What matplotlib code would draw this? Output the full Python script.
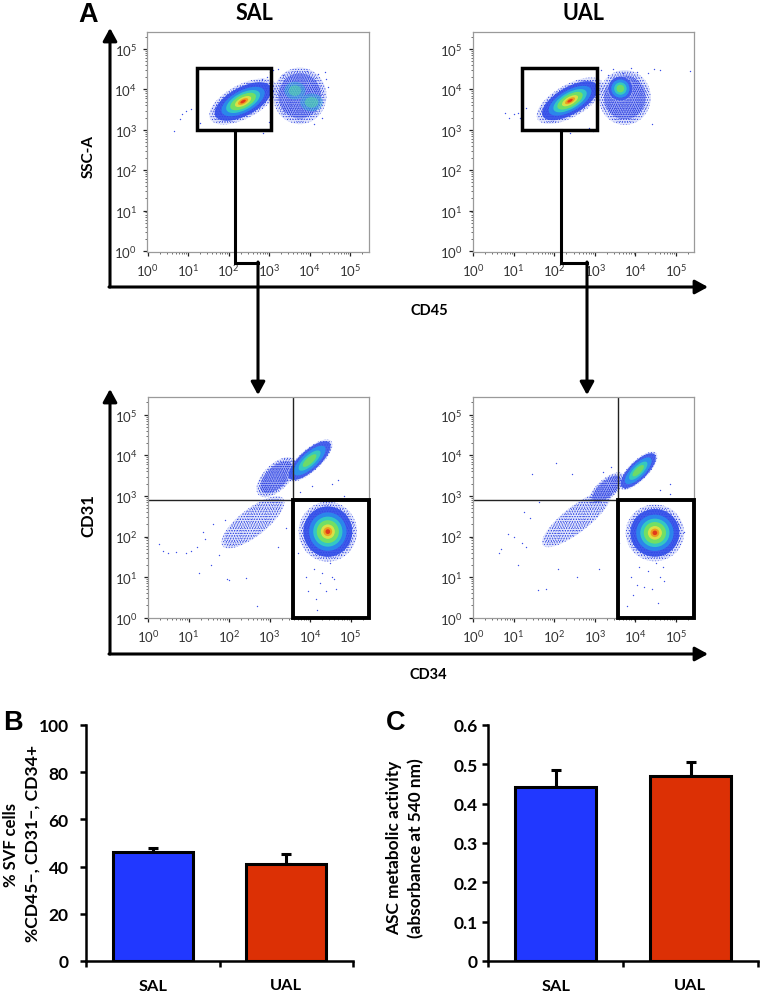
import matplotlib
matplotlib.use("Agg")
import matplotlib.pyplot as plt
from matplotlib.patches import Ellipse, Rectangle
import numpy as np

plt.rcParams['font.family'] = ['Lato', 'DejaVu Sans']
plt.rcParams['mathtext.fontset'] = 'custom'
plt.rcParams['mathtext.rm'] = 'Lato'
plt.rcParams['mathtext.default'] = 'regular'
plt.rcParams['hatch.linewidth'] = 0.4

W, H = 762, 995

# bar data (panels B and C)
groups = ['SAL', 'UAL']
svf_values = [46, 41]
svf_err = [1.8, 4.3]
asc_values = [0.442, 0.470]
asc_err = [0.043, 0.036]
svf_ticks = [0, 20, 40, 60, 80, 100]
asc_ticks = [0, 0.1, 0.2, 0.3, 0.4, 0.5, 0.6]
asc_tick_labels = ['0', '0.1', '0.2', '0.3', '0.4', '0.5', '0.6']

# flow panels: populations in log10 units (x, y, long half axis, short half axis, angle, kind)
sal_cd45 = [
    (3.76, 3.84, 0.66, 0.70, 0, 'dense'),
    (3.64, 3.97, 0.26, 0.22, 0, 'faint'),
    (4.05, 3.68, 0.28, 0.22, 0, 'faint'),
    (2.36, 3.70, 0.92, 0.42, 28, 'full'),
]
ual_cd45 = [
    (3.74, 3.80, 0.64, 0.68, 0, 'dense'),
    (3.63, 4.02, 0.32, 0.32, 0, 'core'),
    (2.39, 3.72, 0.92, 0.40, 30, 'full'),
]
sal_cd34 = [
    (2.59, 2.35, 0.95, 0.34, 38, 'sparse'),
    (3.17, 3.46, 0.62, 0.32, 45, 'dense'),
    (3.99, 3.87, 0.72, 0.27, 42, 'core'),
    (4.44, 2.12, 0.72, 0.74, 0, 'full'),
]
ual_cd34 = [
    (2.55, 2.43, 1.05, 0.32, 38, 'sparse'),
    (3.29, 3.17, 0.55, 0.24, 42, 'dense'),
    (4.07, 3.62, 0.62, 0.24, 45, 'core'),
    (4.48, 2.09, 0.72, 0.70, 0, 'full'),
]

# stray events (log10 x, log10 y)
sal_cd45_x = [0.65, 0.80, 0.84, 0.95, 1.08, 1.22, 1.30, 2.85, 2.95, 3.02, 3.10, 3.22, 3.34, 3.70, 3.95, 4.22, 4.38, 4.40, 4.45, 4.30, 4.10, 2.82, 3.05, 3.00]
sal_cd45_y = [2.97, 3.26, 3.39, 3.47, 3.52, 3.30, 3.18, 2.93, 4.30, 4.42, 4.48, 4.50, 4.35, 4.45, 4.46, 4.38, 4.42, 4.25, 4.05, 3.30, 3.15, 4.25, 3.05, 3.20]
ual_cd45_x = [0.78, 0.88, 1.00, 1.10, 1.15, 1.30, 2.40, 3.05, 3.15, 3.32, 3.45, 3.70, 3.90, 4.05, 4.30, 4.45, 4.60, 5.35, 2.95, 2.60, 2.85, 4.40]
ual_cd45_y = [3.42, 3.28, 3.40, 3.42, 3.30, 3.55, 2.92, 4.42, 4.48, 4.35, 4.50, 4.40, 4.52, 4.42, 4.40, 4.50, 4.48, 4.45, 2.98, 3.00, 3.05, 3.15]
sal_cd34_x = [0.28, 0.38, 0.50, 0.70, 0.95, 1.05, 1.20, 1.25, 1.40, 1.55, 1.75, 1.90, 1.95, 2.42, 1.35, 1.60, 2.00, 2.68, 3.20, 3.40, 3.95, 4.15, 4.25, 4.40, 4.55, 4.65, 3.90, 4.10, 4.30, 4.50, 4.60, 4.18, 4.70, 4.85, 5.05, 4.95, 4.55, 4.05, 3.75, 3.70]
sal_cd34_y = [1.82, 1.65, 1.60, 1.62, 1.60, 1.65, 1.75, 1.10, 1.95, 1.30, 1.55, 2.40, 0.95, 0.98, 2.10, 2.30, 0.92, 0.30, 1.75, 2.20, 0.65, 0.45, 0.85, 0.65, 1.00, 0.70, 1.00, 1.20, 1.10, 1.35, 0.95, 0.20, 3.40, 3.00, 2.35, 1.85, 3.30, 3.25, 3.10, 1.60]
ual_cd34_x = [0.65, 0.68, 0.85, 1.00, 1.10, 1.20, 1.30, 1.25, 1.40, 1.60, 1.80, 1.62, 2.10, 2.05, 2.45, 2.55, 1.45, 3.10, 3.80, 3.95, 4.05, 4.20, 4.40, 4.55, 4.60, 4.70, 3.90, 4.10, 4.30, 4.50, 4.68, 4.85, 5.05, 5.20, 4.60, 3.75, 3.60, 3.40, 3.20, 4.85]
ual_cd34_y = [1.60, 1.70, 2.05, 2.00, 1.30, 1.85, 1.75, 2.60, 2.45, 0.68, 0.70, 2.85, 1.20, 3.80, 3.55, 1.00, 3.55, 1.20, 0.30, 0.55, 0.80, 0.75, 0.70, 0.35, 1.00, 0.90, 1.00, 1.25, 1.15, 1.35, 1.25, 3.30, 2.30, 2.10, 3.15, 3.20, 1.85, 3.70, 3.60, 3.05]

# gates in log10 units
top_gate = [1.21, 2.99, 3.05, 4.52]   # x0, y0, x1, y1
low_gate_x = 3.58
low_gate_y = 2.90

decades = [0, 1, 2, 3, 4, 5]

# nested density levels for the bright populations
full_scale = [0.84, 0.64, 0.50, 0.38, 0.24, 0.15, 0.08]
full_color = ['#2f4be8', '#2a8cec', '#35cfc0', '#7ae25a', '#e4e244', '#f0961e', '#e0301a']
core_scale = [0.92, 0.70, 0.48, 0.30]
core_color = ['#3a55ea', '#2a96ec', '#38d0b8', '#74dc60']

fig = plt.figure(figsize=(W / 100, H / 100), dpi=100)


def px_axes(left, top, right, bottom):
    return fig.add_axes([left / W, 1 - bottom / H, (right - left) / W, (bottom - top) / H])


def blob(ax, cx, cy, a, b, ang, **kw):
    ax.add_patch(Ellipse((cx, cy), 2 * a, 2 * b, angle=ang, lw=0, **kw))


def flow_panel(left, top, right, bottom, x0, y0, x_per, y_per, pops, sx, sy):
    ax = px_axes(left, top, right, bottom)
    ax.set_xlim((left - x0) / x_per, (right - x0) / x_per)
    ax.set_ylim((y0 - bottom) / y_per, (y0 - top) / y_per)
    for cx, cy, a, b, ang, kind in pops:
        if kind == 'faint':
            blob(ax, cx, cy, a, b, ang, facecolor='#2fb0d8', alpha=0.45)
            blob(ax, cx, cy, 0.6 * a, 0.6 * b, ang, facecolor='#55d8a8', alpha=0.55)
            continue
        # speckled fringe, two hatch densities so the dots look less regular
        blob(ax, cx, cy, a, b, ang, facecolor='#c4ccfa', alpha=0.5)
        blob(ax, cx, cy, a, b, ang, facecolor='none', edgecolor='#2a3fe0', hatch='......')
        blob(ax, cx, cy, 0.92 * a, 0.92 * b, ang, facecolor='none', edgecolor='#3048e4', hatch='.......')
        if kind == 'sparse':
            continue
        if kind == 'dense':
            blob(ax, cx, cy, 0.8 * a, 0.8 * b, ang, facecolor='#5a6df0', alpha=0.5)
            blob(ax, cx, cy, 0.8 * a, 0.8 * b, ang, facecolor='none', edgecolor='#1c30d8', hatch='........')
            continue
        scales, colors = (core_scale, core_color) if kind == 'core' else (full_scale, full_color)
        for s, c in zip(scales, colors):
            blob(ax, cx, cy, a * s, b * s, ang, facecolor=c, alpha=0.9)
    ax.scatter(sx, sy, s=1.0, color='#3a4fe8', lw=0)
    ax.set_xticks(decades)
    ax.set_yticks(decades)
    ax.set_xticklabels(['$10^{%d}$' % d for d in decades])
    ax.set_yticklabels(['$10^{%d}$' % d for d in decades])
    minor = [d + np.log10(m) for d in decades for m in range(2, 10)]
    ax.set_xticks([m for m in minor if m < ax.get_xlim()[1]], minor=True)
    ax.set_yticks([m for m in minor if m < ax.get_ylim()[1]], minor=True)
    ax.tick_params(which='major', length=3.2, width=0.9, labelsize=9.5, color='#222222', labelcolor='#333333', pad=4)
    ax.tick_params(which='minor', length=1.7, width=0.5, color='#333333')
    for s in ax.spines.values():
        s.set_color('#9a9a9a')
        s.set_linewidth(0.9)
    return ax


ax1 = flow_panel(147, 33, 369, 253, 147.5, 252, 40.5, 40.4, sal_cd45, sal_cd45_x, sal_cd45_y)
ax2 = flow_panel(472.7, 33, 694, 253, 473, 252, 40.6, 40.4, ual_cd45, ual_cd45_x, ual_cd45_y)
ax3 = flow_panel(147.7, 398, 369, 619, 148, 618.7, 40.5, 40.6, sal_cd34, sal_cd34_x, sal_cd34_y)
ax4 = flow_panel(472.7, 398, 694, 619, 473, 618.7, 40.6, 40.6, ual_cd34, ual_cd34_x, ual_cd34_y)

for ax in (ax1, ax2):
    ax.add_patch(Rectangle((top_gate[0], top_gate[1]), top_gate[2] - top_gate[0], top_gate[3] - top_gate[1],
                           fill=False, edgecolor='black', lw=2.5, joinstyle='miter', zorder=5))

for ax in (ax3, ax4):
    ax.axhline(low_gate_y, color='#222222', lw=1.0)
    ax.axvline(low_gate_x, color='#222222', lw=1.0)
    xmax = ax.get_xlim()[1]
    ax.add_patch(Rectangle((low_gate_x, ax.get_ylim()[0]), xmax - low_gate_x, low_gate_y - ax.get_ylim()[0],
                           fill=False, edgecolor='black', lw=2.8, joinstyle='miter', zorder=5, clip_on=False))


def bar_panel(left, right, values, errs, ticks, labels, ymax, pad):
    ax = px_axes(left, 726, right, 962)
    ax.bar([0, 1], values, width=0.6, color=['#2138ff', '#dc3005'], edgecolor='black', linewidth=2.2, zorder=2)
    ax.errorbar([0, 1], values, yerr=[[0, 0], errs], fmt='none', ecolor='black', elinewidth=2.2, capsize=3.5, capthick=2.2, zorder=1)
    ax.set_xlim(-0.5, 1.5)
    ax.set_ylim(0, ymax)
    ax.set_xticks([-0.5, 0.5, 1.5])
    ax.set_xticklabels([])
    ax.set_yticks(ticks)
    ax.set_yticklabels(labels, fontweight='bold', fontsize=12.5)
    ax.tick_params(axis='y', length=4.5, width=1.8, pad=pad)
    ax.tick_params(axis='x', length=4.5, width=1.8)
    for s in ('top', 'right'):
        ax.spines[s].set_visible(False)
    for s in ('left', 'bottom'):
        ax.spines[s].set_linewidth(1.8)
    return ax


bar_panel(86, 353, svf_values, svf_err, svf_ticks, [str(t) for t in svf_ticks], 100, 8)
bar_panel(488, 758, asc_values, asc_err, asc_ticks, asc_tick_labels, 0.6, 3)

# overlay in pixels for gating arrows and free text
ov = fig.add_axes([0, 0, 1, 1], zorder=10)
ov.set_xlim(0, W)
ov.set_ylim(H, 0)
ov.axis('off')
ov.patch.set_alpha(0)


def arrow(x0, y0, x1, y1):
    ov.annotate('', xy=(x1, y1), xytext=(x0, y0),
                arrowprops=dict(arrowstyle='-|>,head_length=0.55,head_width=0.3', color='black', lw=2.2,
                                shrinkA=0, shrinkB=0, mutation_scale=14))


arrow(110, 288, 110, 29)
arrow(109, 288, 708, 288)
arrow(110, 655, 110, 390)
arrow(109, 655, 708, 655)
ov.plot([235, 235, 258], [131, 264, 264], color='black', lw=2.2, solid_joinstyle='miter')
ov.plot([561, 561, 587], [131, 264, 264], color='black', lw=2.2, solid_joinstyle='miter')
arrow(258, 263, 258, 396)
arrow(587, 263, 587, 396)


def label(x, y, s, size=11, rot=0, weight='bold', family=None):
    ov.text(x, y, s, fontsize=size, rotation=rot, fontweight=weight, ha='center', va='center',
            family=family if family else ['Lato', 'DejaVu Sans'], color='black')


label(88, 15, 'A', 19.5, family='Liberation Sans')
label(13, 723, 'B', 19.5, family='Liberation Sans')
label(396, 723, 'C', 19.5, family='Liberation Sans')
label(254, 14, 'SAL', 15.5)
label(583, 14, 'UAL', 15.5)
label(89, 156, 'SSC-A', 11, 90)
label(429, 311, 'CD45', 10.5)
label(88, 516, 'CD31', 12, 90)
label(428, 675, 'CD34', 10.5)
label(153, 987, 'SAL', 11.8)
label(286, 986, 'UAL', 11.8)
label(556, 987, 'SAL', 11.8)
label(690, 986, 'UAL', 11.8)
label(11, 845, '% SVF cells', 12, 90)
label(33, 843, '%CD45\u2212, CD31\u2212, CD34+', 12.6, 90)
label(394, 848, 'ASC metabolic activity', 12.4, 90)
label(416, 848, '(absorbance at 540 nm)', 12.4, 90)

fig.savefig('out.png', dpi=100)
